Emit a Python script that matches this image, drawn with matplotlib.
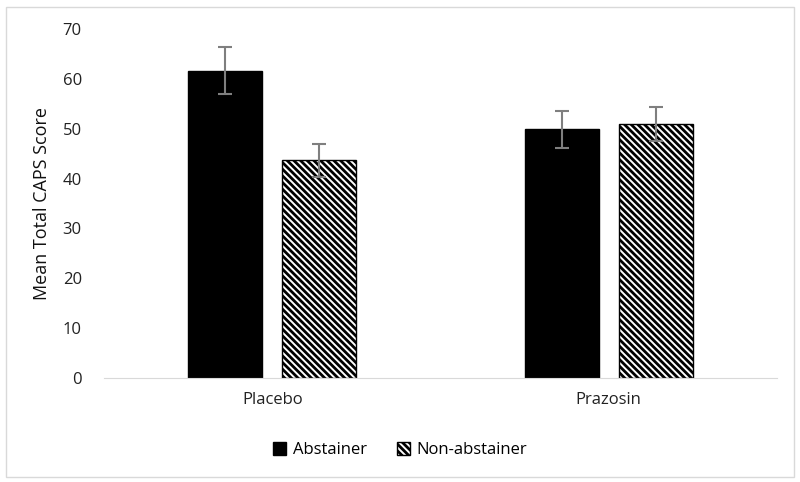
import matplotlib.pyplot as plt
from matplotlib.patches import Rectangle
import numpy as np

plt.rcParams['font.family'] = ['Open Sans', 'DejaVu Sans']
plt.rcParams['hatch.linewidth'] = 2.0

groups = ["Placebo", "Prazosin"]
series = ["Abstainer", "Non-abstainer"]
abstainer = [61.6, 49.9]
abstainer_err = [4.7, 3.7]
non_abstainer = [43.7, 50.9]
non_abstainer_err = [3.3, 3.4]
yticks = [0, 10, 20, 30, 40, 50, 60, 70]

fig = plt.figure(figsize=(8, 4.82), dpi=100)
ax = fig.add_axes([0.13, 0.2158, 0.841, 0.724])

x = np.arange(len(groups))
w = 0.22
gap = 0.06
ek = dict(ecolor="#7f7f7f", elinewidth=1.5, capsize=5, capthick=1.5)
ax.bar(x - (w + gap) / 2, abstainer, w, yerr=abstainer_err, color="black",
       edgecolor="black", label=series[0], error_kw=ek)
ax.bar(x + (w + gap) / 2, non_abstainer, w, yerr=non_abstainer_err, color="white",
       edgecolor="black", hatch="\\" * 5, linewidth=1, label=series[1], error_kw=ek)

ax.set_xlim(-0.5, 1.5)
ax.set_ylim(0, 70)
ax.set_yticks(yticks)
ax.set_xticks(x)
ax.set_xticklabels(groups)
ax.tick_params(length=0, labelsize=12, colors="#222222")
ax.tick_params(axis="y", pad=16)
ax.tick_params(axis="x", pad=10)
for s in ["top", "right", "left"]:
    ax.spines[s].set_visible(False)
ax.spines["bottom"].set_color("#d9d9d9")
ax.set_ylabel("Mean Total CAPS Score", fontsize=13, color="#111111", labelpad=8)

ax.legend(loc="upper center", bbox_to_anchor=(0.44, -0.14), ncol=2, frameon=False,
          fontsize=12, handlelength=0.8, handleheight=0.8, columnspacing=1.8,
          handletextpad=0.4)

fig.patches.append(Rectangle((0.008, 0.01), 0.984, 0.975, transform=fig.transFigure,
                             fill=False, edgecolor="#d9d9d9", linewidth=1))

fig.savefig("out.png", dpi=100)
